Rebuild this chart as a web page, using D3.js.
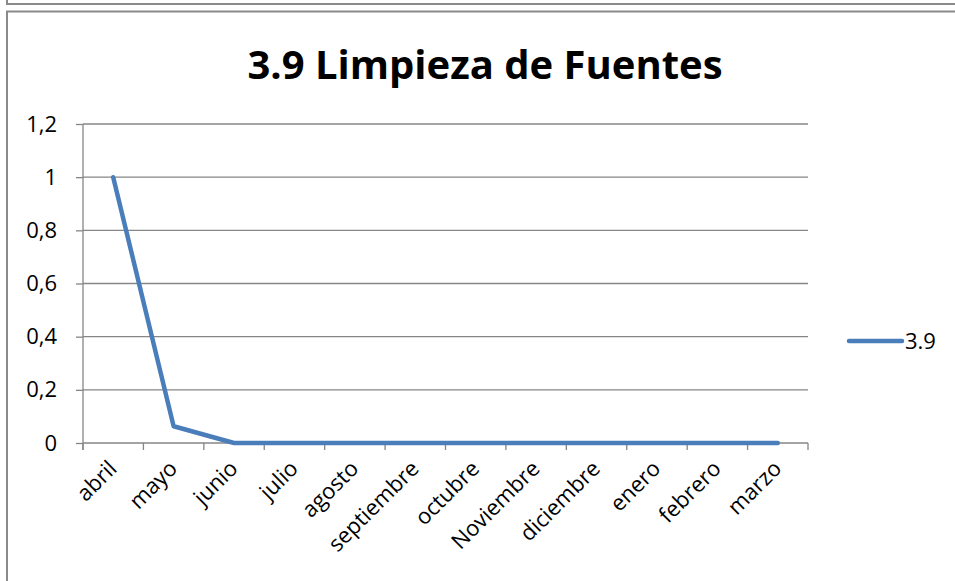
<!DOCTYPE html>
<html>
<head>
<meta charset="utf-8">
<script src="https://cdn.jsdelivr.net/npm/d3@7"></script>
<style>
  body { margin: 0; background: #fff; }
  svg { display: block; font-family: "Open Sans", "Noto Sans", sans-serif; }
</style>
</head>
<body>
<svg id="chart"></svg>
<script>
// Chart size
const width = 955, height = 581;

// Data
const months = ["abril", "mayo", "junio", "julio", "agosto", "septiembre", "octubre",
  "Noviembre", "diciembre", "enero", "febrero", "marzo"];
const values = [1, 0.063, 0, 0, 0, 0, 0, 0, 0, 0, 0, 0];
const yTicks = [0, 0.2, 0.4, 0.6, 0.8, 1, 1.2];
const seriesName = "3.9";
const title = "3.9 Limpieza de Fuentes";

const svg = d3.select("#chart")
  .attr("width", width)
  .attr("height", height);

// Frames (chart box and the edge of the box above it)
svg.append("rect")
  .attr("x", 7).attr("y", -20)
  .attr("width", 960).attr("height", 24)
  .attr("fill", "none").attr("stroke", "#8a8a8a").attr("stroke-width", 2);
svg.append("rect")
  .attr("x", 7).attr("y", 11.5)
  .attr("width", 960).attr("height", 600)
  .attr("fill", "#fff").attr("stroke", "#8a8a8a").attr("stroke-width", 2);

// Plot area
const plot = { left: 83, right: 808, top: 124, bottom: 443 };

const x = d3.scaleBand()
  .domain(months)
  .range([plot.left, plot.right]);

const y = d3.scaleLinear()
  .domain([0, 1.2])
  .range([plot.bottom, plot.top]);

// Title
svg.append("text")
  .attr("x", 485)
  .attr("y", 79)
  .attr("text-anchor", "middle")
  .attr("font-size", 40)
  .attr("font-weight", "bold")
  .attr("fill", "#000")
  .text(title);

// Horizontal gridlines
svg.append("g")
  .selectAll("line")
  .data(yTicks.filter(d => d > 0))
  .join("line")
  .attr("x1", plot.left).attr("x2", plot.right)
  .attr("y1", d => y(d)).attr("y2", d => y(d))
  .attr("stroke", "#868686").attr("stroke-width", 1.3);

// Y axis
const yAxis = svg.append("g")
  .attr("transform", `translate(${plot.left},0)`)
  .call(d3.axisLeft(y)
    .tickValues(yTicks)
    .tickSize(7)
    .tickPadding(19)
    .tickFormat(d => String(+d.toFixed(1)).replace(".", ",")));
yAxis.select(".domain").remove();
yAxis.selectAll(".tick line").attr("stroke", "#868686").attr("stroke-width", 1.3);
yAxis.selectAll(".tick text")
  .attr("font-size", 22)
  .attr("font-family", "'Open Sans', sans-serif")
  .attr("fill", "#000");
svg.append("line")
  .attr("x1", plot.left).attr("x2", plot.left)
  .attr("y1", plot.top).attr("y2", plot.bottom + 7)
  .attr("stroke", "#868686").attr("stroke-width", 1.3);

// X axis line and ticks at category boundaries
svg.append("line")
  .attr("x1", plot.left).attr("x2", plot.right)
  .attr("y1", plot.bottom).attr("y2", plot.bottom)
  .attr("stroke", "#868686").attr("stroke-width", 1.3);
const boundaries = months.map(m => x(m)).concat([x.range()[1]]);
svg.append("g")
  .selectAll("line")
  .data(boundaries)
  .join("line")
  .attr("x1", d => d).attr("x2", d => d)
  .attr("y1", plot.bottom).attr("y2", plot.bottom + 7)
  .attr("stroke", "#868686").attr("stroke-width", 1.3);

// X labels, rotated
svg.append("g")
  .selectAll("text")
  .data(months)
  .join("text")
  .attr("transform", d => `translate(${x(d) + x.bandwidth() / 2 + 5},${plot.bottom + 27}) rotate(-45)`)
  .attr("text-anchor", "end")
  .attr("font-size", 22)
  .attr("fill", "#000")
  .text(d => d);

// Series line
const line = d3.line()
  .x((d, i) => x(months[i]) + x.bandwidth() / 2)
  .y(d => y(d));

svg.append("path")
  .datum(values)
  .attr("d", line)
  .attr("fill", "none")
  .attr("stroke", "#4a7ebb")
  .attr("stroke-width", 4.5)
  .attr("stroke-linejoin", "round")
  .attr("stroke-linecap", "round");

// Legend
const legend = svg.append("g").attr("transform", "translate(849,341)");
legend.append("line")
  .attr("x1", 0).attr("x2", 53)
  .attr("stroke", "#4a7ebb")
  .attr("stroke-width", 4.5)
  .attr("stroke-linecap", "round");
legend.append("text")
  .attr("x", 56)
  .attr("y", 8)
  .attr("font-size", 22)
  .attr("fill", "#000")
  .text(seriesName);
</script>
</body>
</html>
